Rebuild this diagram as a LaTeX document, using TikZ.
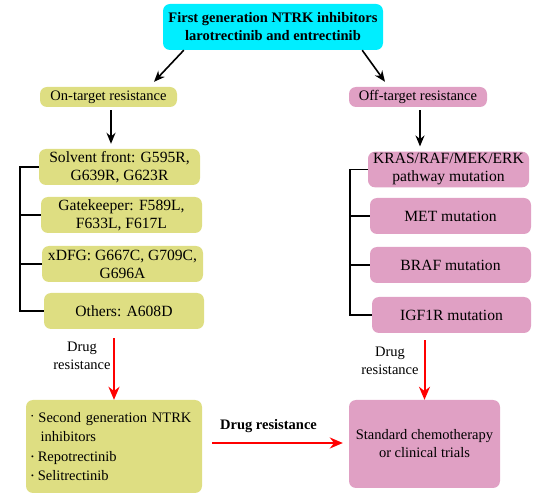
\documentclass[tikz,border=0pt]{standalone}
\usepackage{fontspec}
\setmainfont{Liberation Serif}
\usetikzlibrary{arrows.meta,calc}
\definecolor{ntrkcyan}{RGB}{0,238,255}
\definecolor{ontargetyellow}{RGB}{222,222,130}
\definecolor{offtargetpink}{RGB}{224,160,196}
\definecolor{drugred}{RGB}{255,0,0}

\begin{document}
\begin{tikzpicture}[x=1pt, y=-1pt,
    box/.style={rounded corners=7pt, align=center, inner sep=2pt,
        font=\fontsize{14.5}{18}\selectfont},
    onbox/.style={box, fill=ontargetyellow},
    offbox/.style={box, fill=offtargetpink},
    mutbox/.style={font=\fontsize{15.6}{18}\selectfont},
    blackarrow/.style={line width=1.6pt, -{Stealth[length=11pt,width=9pt]}},
    bracket/.style={line width=1.6pt},
    redarrow/.style={drugred, line width=2pt, -{Stealth[length=13pt,width=11pt]}},
    arrowlabel/.style={align=center, inner sep=0pt,
        font=\fontsize{14.5}{18.5}\selectfont}]
    \useasboundingbox (0,0) rectangle (558,497);

    % First generation inhibitors
    \node[box, fill=ntrkcyan, minimum width=220pt, minimum height=46pt,
        font=\bfseries\fontsize{14.5}{18}\selectfont] (first) at (273,27)
        {First generation NTRK inhibitors\\larotrectinib and entrectinib};

    % Two kinds of resistance
    \node[onbox, minimum width=137pt, minimum height=20pt] (ontarget) at (108.5,97) {On-target resistance};
    \node[offbox, minimum width=138pt, minimum height=20pt] (offtarget) at (418,97) {Off-target resistance};
    \draw[blackarrow] ([xshift=21pt]first.south west) -- ([xshift=45.5pt,yshift=5pt]ontarget.north);
    \draw[blackarrow] ([xshift=-21pt]first.south east) -- ([xshift=-33pt,yshift=5pt]offtarget.north);

    % On-target mutations
    \node[onbox, mutbox, minimum width=161pt, minimum height=36pt] (solvent) at (119.5,167) {Solvent front: G595R,\\G639R, G623R};
    \node[onbox, mutbox, minimum width=161pt, minimum height=36pt] (gatekeeper) at (121.5,215) {Gatekeeper: F589L,\\F633L, F617L};
    \node[onbox, mutbox, minimum width=161pt, minimum height=36pt] (xdfg) at (122.5,264) {xDFG: G667C, G709C,\\G696A};
    \node[onbox, mutbox, minimum width=160pt, minimum height=36pt] (others) at (124,311) {Others: A608D};
    \draw[blackarrow] ($(ontarget.south)+(2.5,3)$) -- ($(ontarget.south |- solvent.north)+(2.5,-5)$);

    % left bracket
    \coordinate (lbar) at (20,0);
    \draw[bracket] (solvent.west) -- (solvent.west -| lbar) -- (others.west -| lbar) -- (others.west);
    \draw[bracket] (gatekeeper.west) -- (gatekeeper.west -| lbar);
    \draw[bracket] (xdfg.west) -- (xdfg.west -| lbar);

    % Off-target mutations
    \node[offbox, mutbox, minimum width=161pt, minimum height=35pt] (kras) at (448.5,169.5) {KRAS/RAF/MEK/ERK\\pathway mutation};
    \node[offbox, mutbox, minimum width=161pt, minimum height=36pt] (met) at (450.5,216) {MET mutation};
    \node[offbox, mutbox, minimum width=161pt, minimum height=36pt] (braf) at (450.5,265) {BRAF mutation};
    \node[offbox, mutbox, minimum width=159pt, minimum height=36pt] (igf) at (451.5,315) {IGF1R mutation};
    \draw[blackarrow] ($(offtarget.south)+(2,3)$) -- ($(offtarget.south |- kras.north)+(2,-5)$);

    % right bracket
    \coordinate (rbar) at (350,0);
    \draw[bracket] (kras.west) -- (kras.west -| rbar) -- (igf.west -| rbar) -- (igf.west);
    \draw[bracket] (met.west) -- (met.west -| rbar);
    \draw[bracket] (braf.west) -- (braf.west -| rbar);

    % Next lines of treatment
    \node[onbox, minimum height=93pt, text width=166pt, inner xsep=5pt, align=left,
        font=\fontsize{14.5}{19.3}\selectfont] (second) at (114,446.5)
        {\raisebox{4pt}{\fontsize{7}{7}\selectfont\textbullet}\hspace{5pt}Second generation NTRK\\
         \hspace*{9.5pt}inhibitors\\
         \raisebox{1.5pt}{\fontsize{8}{8}\selectfont\textbullet}\hspace{4pt}Repotrectinib\\
         \raisebox{1.5pt}{\fontsize{8}{8}\selectfont\textbullet}\hspace{4pt}Selitrectinib};
    \node[offbox, minimum width=151pt, minimum height=88pt] (standard) at (424.5,444) {Standard chemotherapy\\or clinical trials};

    % Drug resistance arrows
    \draw[redarrow] ($(others.south -| second.north)+(0,9)$) -- (second.north);
    \node[arrowlabel] (leftdrug) at (82,356) {Drug\\resistance};
    \draw[redarrow] ($(igf.south -| standard.north)+(0,7)$) -- (standard.north);
    \node[arrowlabel] (rightdrug) at (390,361) {Drug\\resistance};
    \draw[redarrow] ($(second.east |- standard.west)+(10,-1)$) -- ($(standard.west)+(-6,-1)$);
    \node[arrowlabel, font=\bfseries\fontsize{14.5}{18}\selectfont] (middrug) at (268.5,426) {Drug resistance};
\end{tikzpicture}
\end{document}
